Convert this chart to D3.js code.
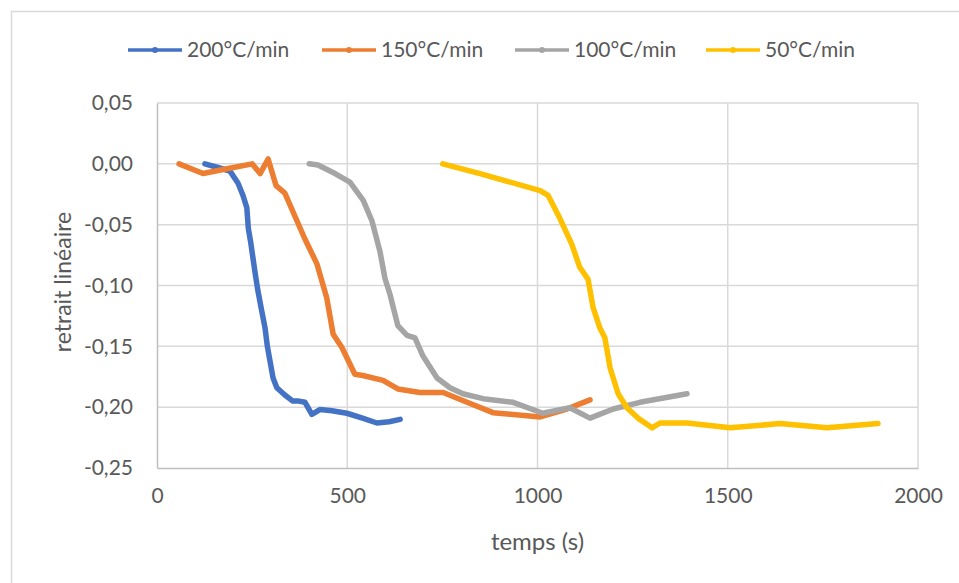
<!DOCTYPE html>
<html><head><meta charset="utf-8">
<script src="https://cdn.jsdelivr.net/npm/d3@7"></script>
<style>
html,body{margin:0;padding:0;background:#fff;}
text{font-family:Lato,"Open Sans",sans-serif;fill:#595959;}
</style></head>
<body><svg id="c" width="959" height="583"></svg>
<script>
const seriesNames = ["200°C/min","150°C/min","100°C/min","50°C/min"];
const seriesColors = ["#4472C4","#ED7D31","#A5A5A5","#FFC000"];
const xTicks = [0,500,1000,1500,2000];
const yTicks = [0.05,0,-0.05,-0.10,-0.15,-0.20,-0.25];

const t200 = [126,160,192,213,226,236,240,246,252,258,265,274,284,290,297,305,315,336,357,373,389,407,428,460,499,540,578,610,639];
const v200 = [0,-0.003,-0.006,-0.016,-0.026,-0.036,-0.053,-0.064,-0.077,-0.090,-0.104,-0.119,-0.135,-0.150,-0.162,-0.176,-0.184,-0.190,-0.195,-0.195,-0.196,-0.206,-0.202,-0.203,-0.205,-0.209,-0.213,-0.212,-0.210];

const t150 = [58,121,184,250,271,292,313,336,368,389,420,446,463,486,520,541,594,633,691,752,823,883,1007,1077,1138];
const v150 = [0,-0.008,-0.004,0,-0.008,0.004,-0.018,-0.024,-0.047,-0.062,-0.082,-0.110,-0.140,-0.151,-0.173,-0.174,-0.178,-0.185,-0.188,-0.188,-0.197,-0.2045,-0.208,-0.2015,-0.194];

const t100 = [400,423,468,507,542,565,586,599,612,633,657,678,699,736,770,804,857,936,1014,1085,1138,1199,1269,1393];
const v100 = [0,-0.001,-0.008,-0.015,-0.030,-0.047,-0.072,-0.094,-0.107,-0.133,-0.141,-0.143,-0.158,-0.176,-0.184,-0.189,-0.193,-0.196,-0.205,-0.2005,-0.209,-0.2015,-0.196,-0.189];

const t50 = [751,849,1007,1028,1059,1090,1111,1133,1146,1164,1177,1191,1212,1235,1264,1301,1322,1393,1506,1637,1761,1895];
const v50 = [0,-0.008,-0.022,-0.026,-0.045,-0.066,-0.085,-0.095,-0.118,-0.135,-0.143,-0.168,-0.189,-0.2005,-0.209,-0.217,-0.213,-0.213,-0.217,-0.2135,-0.217,-0.2135];

const seriesT = [t200,t150,t100,t50];
const seriesV = [v200,v150,v100,v50];

const svg = d3.select("#c");
svg.append("rect").attr("x",11.5).attr("y",11.5).attr("width",980).attr("height",620)
  .attr("fill","#fff").attr("stroke","#D9D9D9").attr("stroke-width",1.5);

const x = d3.scaleLinear().domain([0,2000]).range([157,918]);
const y = d3.scaleLinear().domain([-0.25,0.05]).range([468,103]);

// gridlines
svg.append("g").selectAll("line.h").data(yTicks.filter(d=>d>-0.25)).join("line")
  .attr("x1",x(0)).attr("x2",x(2000)).attr("y1",d=>y(d)).attr("y2",d=>y(d))
  .attr("stroke","#D9D9D9").attr("stroke-width",1.5);
svg.append("g").selectAll("line.v").data(xTicks.filter(d=>d>0)).join("line")
  .attr("x1",d=>x(d)).attr("x2",d=>x(d)).attr("y1",y(0.05)).attr("y2",y(-0.25))
  .attr("stroke","#D9D9D9").attr("stroke-width",1.5);

// axes
const fmt = d => d3.format(".2f")(d).replace("−","-").replace(".",",");
const gy = svg.append("g").attr("transform",`translate(${x(0)},0)`)
  .call(d3.axisLeft(y).tickValues(yTicks).tickFormat(fmt).tickSize(0).tickPadding(24));
gy.select(".domain").attr("stroke","#BFBFBF").attr("stroke-width",1.5);
gy.selectAll("text").style("font-size","21px").style("font-family","Lato").attr("fill","#595959");

const gx = svg.append("g").attr("transform",`translate(0,${y(-0.25)})`)
  .call(d3.axisBottom(x).tickValues(xTicks).tickFormat(d3.format("d")).tickSize(0).tickPadding(20));
gx.select(".domain").attr("stroke","#BFBFBF").attr("stroke-width",1.5);
gx.selectAll("text").style("font-size","21px").style("font-family","Lato").attr("fill","#595959");

// titles
svg.append("text").attr("x",(x(0)+x(2000))/2).attr("y",550).attr("text-anchor","middle")
  .style("font-size","24px").text("temps (s)");
svg.append("text").attr("transform","translate(71,282) rotate(-90)").attr("text-anchor","middle")
  .style("font-size","23px").text("retrait linéaire");

// lines
const line = d3.line().x(d=>x(d[0])).y(d=>y(d[1]));
seriesNames.forEach((n,i)=>{
  const pts = seriesT[i].map((t,j)=>[t,seriesV[i][j]]);
  svg.append("path").datum(pts).attr("d",line).attr("fill","none")
    .attr("stroke",seriesColors[i]).attr("stroke-width",5.5)
    .attr("stroke-linejoin","round").attr("stroke-linecap","round");
});

// legend
const legX = [128,322,515,706];
seriesNames.forEach((n,i)=>{
  const g = svg.append("g").attr("transform",`translate(${legX[i]},50)`);
  g.append("line").attr("x1",0).attr("x2",54).attr("stroke",seriesColors[i]).attr("stroke-width",3.5);
  g.append("circle").attr("cx",27).attr("r",3).attr("fill",seriesColors[i]);
  g.append("text").attr("x",59).attr("dy","0.35em").style("font-size","21px").text(n);
});
</script></body></html>
